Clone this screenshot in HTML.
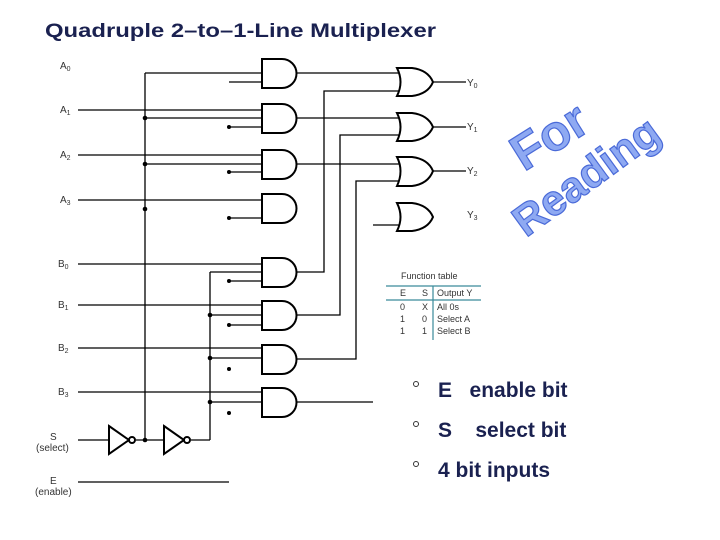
<!DOCTYPE html>
<html><head><meta charset="utf-8"><style>
html,body{margin:0;padding:0;background:#fff;width:720px;height:540px;overflow:hidden}
svg{display:block}
</style></head><body>
<svg width="720" height="540" viewBox="0 0 720 540" xmlns="http://www.w3.org/2000/svg">
<text x="45" y="37" font-family="Liberation Sans, sans-serif" font-weight="bold" font-size="19" fill="#1a2150" textLength="391" lengthAdjust="spacingAndGlyphs">Quadruple 2–to–1-Line Multiplexer</text>

<g font-family="Liberation Sans, sans-serif" font-size="10" fill="#333">
<text x="60" y="69">A<tspan font-size="7" dy="2">0</tspan></text>
<text x="60" y="113">A<tspan font-size="7" dy="2">1</tspan></text>
<text x="60" y="158">A<tspan font-size="7" dy="2">2</tspan></text>
<text x="60" y="203">A<tspan font-size="7" dy="2">3</tspan></text>
<text x="58" y="267">B<tspan font-size="7" dy="2">0</tspan></text>
<text x="58" y="308">B<tspan font-size="7" dy="2">1</tspan></text>
<text x="58" y="351">B<tspan font-size="7" dy="2">2</tspan></text>
<text x="58" y="395">B<tspan font-size="7" dy="2">3</tspan></text>
<text x="50" y="440">S</text>
<text x="36" y="451">(select)</text>
<text x="50" y="484">E</text>
<text x="35" y="495">(enable)</text>
<text x="467" y="86">Y<tspan font-size="7" dy="2">0</tspan></text>
<text x="467" y="130">Y<tspan font-size="7" dy="2">1</tspan></text>
<text x="467" y="174">Y<tspan font-size="7" dy="2">2</tspan></text>
<text x="467" y="218">Y<tspan font-size="7" dy="2">3</tspan></text>
</g>

<g stroke="#000" stroke-width="1.3" fill="none">
<path d="M78 110H262M78 155H262M78 200H262"/>
<path d="M145 73H262M145 118H262M145 164H262"/>
<path d="M229 82H262M229 127H262M229 172H262M229 218H262"/>
<path d="M78 264H262M78 305H262M78 348H262M78 392H262"/>
<path d="M210 272H262M210 315H262M210 358H262M210 402H262"/>
<path d="M229 281H262M229 325H262"/>
<path d="M145 73V440M210 272V440"/>
<path d="M78 440H109M136 440H164M191 440H210"/>
<path d="M78 482H229"/>
<path d="M297 73H400M297 118H400M297 164H400"/>
<path d="M297 272H324V91H400M297 315H340V135H400M297 359H356V181H400M297 402H373M373 225H400"/>
<path d="M432 82H466M432 127H466M432 171H466"/>
</g>

<g stroke="#000" stroke-width="2" fill="#fff">
<path d="M262 59H282A14.5 14.5 0 0 1 282 88H262Z"/>
<path d="M262 104H282A14.5 14.5 0 0 1 282 133H262Z"/>
<path d="M262 150H282A14.5 14.5 0 0 1 282 179H262Z"/>
<path d="M262 194H282A14.5 14.5 0 0 1 282 223H262Z"/>
<path d="M262 258H282A14.5 14.5 0 0 1 282 287H262Z"/>
<path d="M262 301H282A14.5 14.5 0 0 1 282 330H262Z"/>
<path d="M262 345H282A14.5 14.5 0 0 1 282 374H262Z"/>
<path d="M262 388H282A14.5 14.5 0 0 1 282 417H262Z"/>
<path d="M397 68H412Q428 70 433 82Q428 94 412 96H397Q404 82 397 68Z"/>
<path d="M397 113H412Q428 115 433 127Q428 139 412 141H397Q404 127 397 113Z"/>
<path d="M397 157H412Q428 159 433 171Q428 184 412 186H397Q404 171 397 157Z"/>
<path d="M397 203H412Q428 205 433 217Q428 229 412 231H397Q404 217 397 203Z"/>
<path d="M109 426L129 440L109 454Z"/>
<circle cx="132" cy="440" r="3"/>
<path d="M164 426L184 440L164 454Z"/>
<circle cx="187" cy="440" r="3"/>
</g>

<g fill="#000">
<circle cx="145" cy="118" r="2.3"/><circle cx="145" cy="164" r="2.3"/><circle cx="145" cy="209" r="2.3"/><circle cx="145" cy="440" r="2.3"/>
<circle cx="229" cy="127" r="2"/><circle cx="229" cy="172" r="2"/><circle cx="229" cy="218" r="2"/>
<circle cx="229" cy="281" r="2"/><circle cx="229" cy="325" r="2"/><circle cx="229" cy="369" r="2"/><circle cx="229" cy="413" r="2"/>
<circle cx="210" cy="315" r="2.3"/><circle cx="210" cy="358" r="2.3"/><circle cx="210" cy="402" r="2.3"/>
</g>

<g font-family="Liberation Sans, sans-serif" font-size="9" fill="#333">
<text x="401" y="279">Function table</text>
<text x="400" y="296">E</text><text x="422" y="296">S</text><text x="437" y="296">Output Y</text>
<text x="400" y="310">0</text><text x="422" y="310">X</text><text x="437" y="310">All 0s</text>
<text x="400" y="322">1</text><text x="422" y="322">0</text><text x="437" y="322">Select A</text>
<text x="400" y="334">1</text><text x="422" y="334">1</text><text x="437" y="334">Select B</text>
</g>
<g stroke="#3a8a9a" stroke-width="1.2">
<path d="M386 286H481M386 300H481M433 286V340"/>
</g>

<g font-family="Liberation Sans, sans-serif" font-weight="bold" fill="#8ea9f2" stroke="#4a6ad8" stroke-width="1.2">
<text x="0" y="0" font-size="50" transform="translate(524 172) rotate(-32)">For</text>
<text x="0" y="0" font-size="43" transform="translate(526 238) rotate(-36)">Reading</text>
</g>

<g fill="none" stroke="#333" stroke-width="1">
<circle cx="416" cy="384" r="2.5"/><circle cx="416" cy="424" r="2.5"/><circle cx="416" cy="464" r="2.5"/>
</g>
<g font-family="Liberation Sans, sans-serif" font-weight="bold" font-size="21" fill="#1a2150">
<text x="438" y="397" xml:space="preserve">E   enable bit</text>
<text x="438" y="437" xml:space="preserve">S    select bit</text>
<text x="438" y="477">4 bit inputs</text>
</g>
</svg>
</body></html>
